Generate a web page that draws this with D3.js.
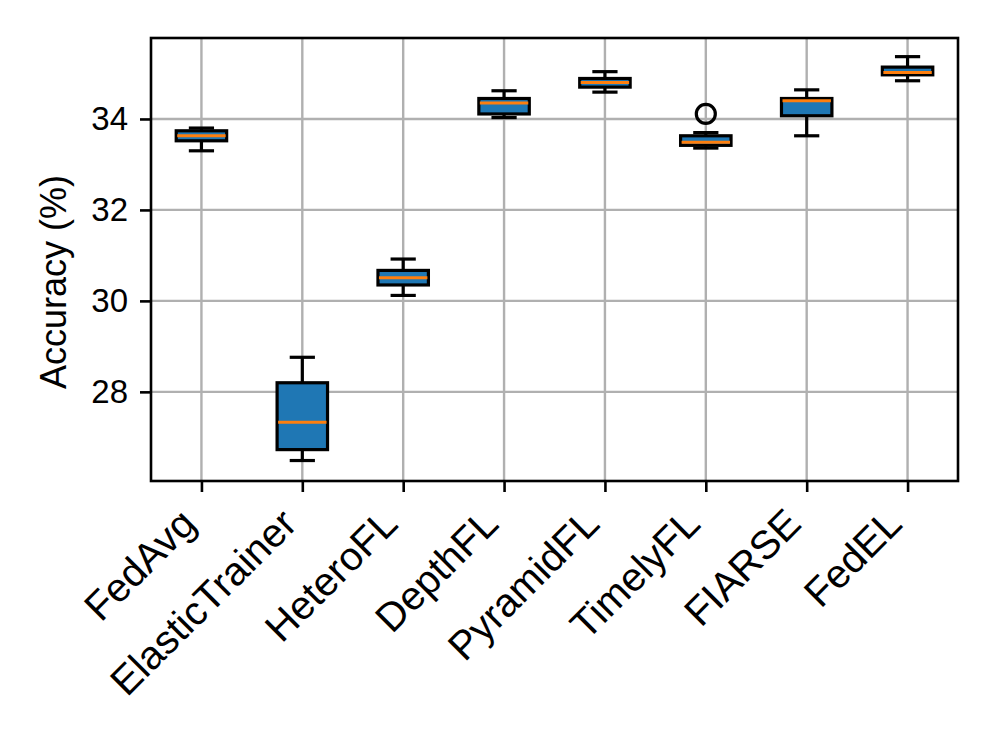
<!DOCTYPE html>
<html>
<head>
<meta charset="utf-8">
<script src="https://cdn.jsdelivr.net/npm/d3@7"></script>
<style>
  body { margin: 0; background: #fff; }
  svg { display: block; font-family: "Liberation Sans", Arial, sans-serif; }
</style>
</head>
<body>
<svg id="chart" width="997" height="747"></svg>
<script>
// Data: per-method box statistics (accuracy %)
const methods = ["FedAvg", "ElasticTrainer", "HeteroFL", "DepthFL", "PyramidFL", "TimelyFL", "FIARSE", "FedEL"];
const whiskerLow  = [33.30, 26.49, 30.12, 34.03, 34.59, 33.36, 33.63, 34.84];
const q1          = [33.52, 26.73, 30.35, 34.11, 34.70, 33.42, 34.07, 34.97];
const medians     = [33.63, 27.33, 30.51, 34.35, 34.80, 33.49, 34.40, 35.02];
const q3          = [33.74, 28.20, 30.67, 34.45, 34.89, 33.63, 34.45, 35.14];
const whiskerHigh = [33.80, 28.76, 30.92, 34.62, 35.04, 33.70, 34.64, 35.37];
const outliers    = [[], [], [], [], [], [34.11], [], []];
const yTicks = [28, 30, 32, 34];

const boxes = methods.map((m, i) => ({
  name: m, lo: whiskerLow[i], q1: q1[i], med: medians[i], q3: q3[i], hi: whiskerHigh[i], out: outliers[i], pos: i + 1
}));

const svg = d3.select("#chart");
const pL = 151, pR = 958, pT = 38, pB = 481;
const FONT = "Liberation Sans, Arial, sans-serif";

const x = d3.scaleLinear().domain([0.5, 8.5]).range([pL, pR]);
const y = d3.scaleLinear().domain([26.04, 35.78]).range([pB, pT]);

const boxW = x(1.25) - x(0.75);
const capW = x(1.125) - x(0.875);
const LW = 3.2;

// grid
const g = svg.append("g");
g.selectAll(".vgrid").data(boxes).enter().append("line")
  .attr("x1", d => x(d.pos)).attr("x2", d => x(d.pos))
  .attr("y1", pT).attr("y2", pB)
  .attr("stroke", "#b0b0b0").attr("stroke-width", 2.4);
g.selectAll(".hgrid").data(yTicks).enter().append("line")
  .attr("x1", pL).attr("x2", pR)
  .attr("y1", d => y(d)).attr("y2", d => y(d))
  .attr("stroke", "#b0b0b0").attr("stroke-width", 2.4);

// boxes
const bx = svg.append("g").selectAll("g").data(boxes).enter().append("g");
bx.append("line").attr("x1", d => x(d.pos)).attr("x2", d => x(d.pos))
  .attr("y1", d => y(d.q3)).attr("y2", d => y(d.hi))
  .attr("stroke", "#000").attr("stroke-width", LW);
bx.append("line").attr("x1", d => x(d.pos)).attr("x2", d => x(d.pos))
  .attr("y1", d => y(d.q1)).attr("y2", d => y(d.lo))
  .attr("stroke", "#000").attr("stroke-width", LW);
bx.append("line").attr("x1", d => x(d.pos) - capW / 2).attr("x2", d => x(d.pos) + capW / 2)
  .attr("y1", d => y(d.hi)).attr("y2", d => y(d.hi))
  .attr("stroke", "#000").attr("stroke-width", LW);
bx.append("line").attr("x1", d => x(d.pos) - capW / 2).attr("x2", d => x(d.pos) + capW / 2)
  .attr("y1", d => y(d.lo)).attr("y2", d => y(d.lo))
  .attr("stroke", "#000").attr("stroke-width", LW);
bx.append("rect")
  .attr("x", d => x(d.pos) - boxW / 2).attr("width", boxW)
  .attr("y", d => y(d.q3)).attr("height", d => y(d.q1) - y(d.q3))
  .attr("fill", "#1f77b4").attr("stroke", "#000").attr("stroke-width", LW);
bx.append("line").attr("x1", d => x(d.pos) - boxW / 2 + 1).attr("x2", d => x(d.pos) + boxW / 2 - 1)
  .attr("y1", d => y(d.med)).attr("y2", d => y(d.med))
  .attr("stroke", "#ff7f0e").attr("stroke-width", 3);
bx.selectAll("circle").data(d => d.out.map(v => ({ v, pos: d.pos }))).enter().append("circle")
  .attr("cx", d => x(d.pos)).attr("cy", d => y(d.v)).attr("r", 9.5)
  .attr("fill", "none").attr("stroke", "#000").attr("stroke-width", LW);

// axes
const yAxis = d3.axisLeft(y).tickValues(yTicks).tickSize(11).tickPadding(12).tickFormat(d3.format("d"));
const yg = svg.append("g").attr("transform", `translate(${pL},0)`).call(yAxis);
yg.select(".domain").remove();
yg.selectAll(".tick line").attr("stroke", "#000").attr("stroke-width", 2.6);
yg.selectAll(".tick text").attr("font-size", 33).attr("fill", "#000")
  .attr("font-family", FONT);

const xAxis = d3.axisBottom(x).tickValues(boxes.map(d => d.pos)).tickSize(11)
  .tickFormat(d => methods[d - 1]);
const xg = svg.append("g").attr("transform", `translate(0,${pB})`).call(xAxis);
xg.select(".domain").remove();
xg.selectAll(".tick line").attr("stroke", "#000").attr("stroke-width", 2.6);
xg.selectAll(".tick text")
  .attr("font-size", 40).attr("fill", "#000")
  .attr("font-family", FONT)
  .attr("text-anchor", "end")
  .attr("y", 0).attr("dy", 0)
  .attr("transform", "translate(-4,45) rotate(-45)");

// frame
svg.append("rect").attr("x", pL).attr("y", pT).attr("width", pR - pL).attr("height", pB - pT)
  .attr("fill", "none").attr("stroke", "#000").attr("stroke-width", 2.6);

// y label
svg.append("text")
  .attr("transform", `translate(66,282) rotate(-90)`)
  .attr("text-anchor", "middle")
  .attr("font-size", 36).attr("fill", "#000")
  .attr("font-family", FONT)
  .text("Accuracy (%)");
</script>
</body>
</html>
